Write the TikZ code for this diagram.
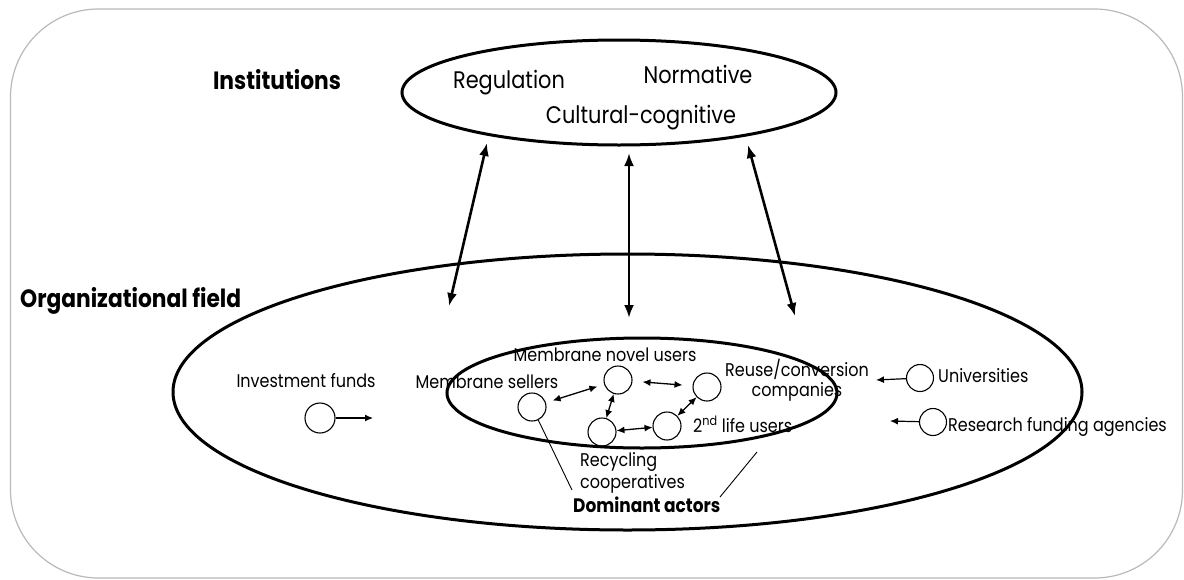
\documentclass[tikz,border=0pt]{standalone}
\usepackage{fontspec}
\setmainfont{Poppins}[FakeStretch=0.87]
\usetikzlibrary{shapes.geometric,arrows.meta}
\begin{document}
\begin{tikzpicture}[x=1pt,y=-1pt,
  field/.style={draw=black, line width=3pt, ellipse, inner sep=0pt},
  actor/.style={draw=black, line width=1.1pt, circle, minimum size=28pt, inner sep=0pt},
  label/.style={inner sep=0pt, font=\fontsize{18.4}{20}\selectfont},
  pillar/.style={inner sep=0pt, font=\fontsize{24}{28}\selectfont},
  head/.style={inner sep=0pt, font=\bfseries\fontsize{25}{29}\selectfont},
  bigarrow/.style={line width=2.6pt, {Latex[length=13pt,width=10pt]}-{Latex[length=13pt,width=10pt]}},
  smallarrow/.style={line width=1.3pt, {Latex[length=8pt,width=7pt]}-{Latex[length=8pt,width=7pt]}},
  feed/.style={line width=1.2pt, -{Latex[length=8pt,width=7pt]}},
  pointer/.style={line width=0.9pt}
]
\useasboundingbox (0,0) rectangle (1184,579);
% outer frame
\draw[gray!55, line width=1.2pt, rounded corners=88pt] (10.5,9) rectangle (1182.5,578);

% institutional pillars
\node[field, minimum width=434pt, minimum height=105pt] (inst) at (619,92.5) {};
\node[head, anchor=base] (tinst) at (277,89) {Institutions};
\node[pillar, anchor=base] (reg) at (509,88) {Regulation};
\node[pillar, anchor=base] (nor) at (698,83) {Normative};
\node[pillar, anchor=base] (cul) at (641,123) {Cultural-cognitive};

% organizational field and dominant actors
\node[field, minimum width=909pt, minimum height=276pt] (org) at (627.5,392) {};
\node[head, anchor=base west] (torg) at (20,307) {Organizational field};
\node[field, minimum width=390pt, minimum height=110pt] (dom) at (642,393) {};

% interaction between institutions and field
\coordinate (aLt) at (487,143); \coordinate (aLb) at (449,306);
\coordinate (aMt) at (629,153); \coordinate (aMb) at (629,318);
\coordinate (aRt) at (748,145); \coordinate (aRb) at (795,316);
\draw[bigarrow] (aLt) -- (aLb);
\draw[bigarrow] (aMt) -- (aMb);
\draw[bigarrow] (aRt) -- (aRb);

% actors
\node[actor] (sel) at (532,407) {};
\node[actor] (nov) at (618,380) {};
\node[actor] (reu) at (707,387) {};
\node[actor] (rec) at (602,432) {};
\node[actor] (sec) at (667,426) {};
\node[actor, minimum size=30pt] (inv) at (320,418) {};
\node[actor, minimum size=27pt] (uni) at (920,378) {};
\node[actor, minimum size=27pt] (res) at (933,422) {};

\node[label, anchor=base] (tinv) at (306,387) {Investment funds};
\node[label, anchor=base] (tsel) at (487,388) {Membrane sellers};
\node[label, anchor=base] (tnov) at (605,361) {Membrane novel users};
\node[label, align=center, anchor=center] (treu) at (797,380) {Reuse/conversion\\companies};
\node[label, anchor=base west] (tsec) at (693,432) {2\textsuperscript{nd} life users};
\node[label, font=\fontsize{18.4}{22}\selectfont, align=left, anchor=west] (trec) at (580,473) {Recycling\\cooperatives};
\node[label, anchor=base west] (tuni) at (938,382) {Universities};
\node[label, anchor=base west] (tres) at (948,431) {Research funding agencies};
\node[inner sep=0pt, font=\bfseries\fontsize{19.5}{23}\selectfont, anchor=base west] (tdom) at (573,512) {Dominant actors};

% exchanges among dominant actors
\draw[smallarrow, shorten <=7pt, shorten >=7pt] (sel) -- (nov);
\draw[smallarrow, shorten <=10pt, shorten >=10pt] (nov) -- (reu);
\draw[smallarrow] (nov) -- (rec);
\draw[smallarrow] (rec) -- (sec);
\draw[smallarrow] (sec) -- (reu);

% peripheral actors
\coordinate (invT) at (373,418);
\coordinate (uniT) at (876,380);
\coordinate (resT) at (890,421);
\draw[feed] (inv) -- (invT);
\draw[feed] (uni) -- (uniT);
\draw[feed] (res) -- (resT);

% pointers to the dominant actors label
\coordinate (pL) at (572,490);
\coordinate (pR1) at (720,497);
\coordinate (pR2) at (757,452);
\draw[pointer] (sel) -- (pL);
\draw[pointer] (pR1) -- (pR2);
\end{tikzpicture}
\end{document}
